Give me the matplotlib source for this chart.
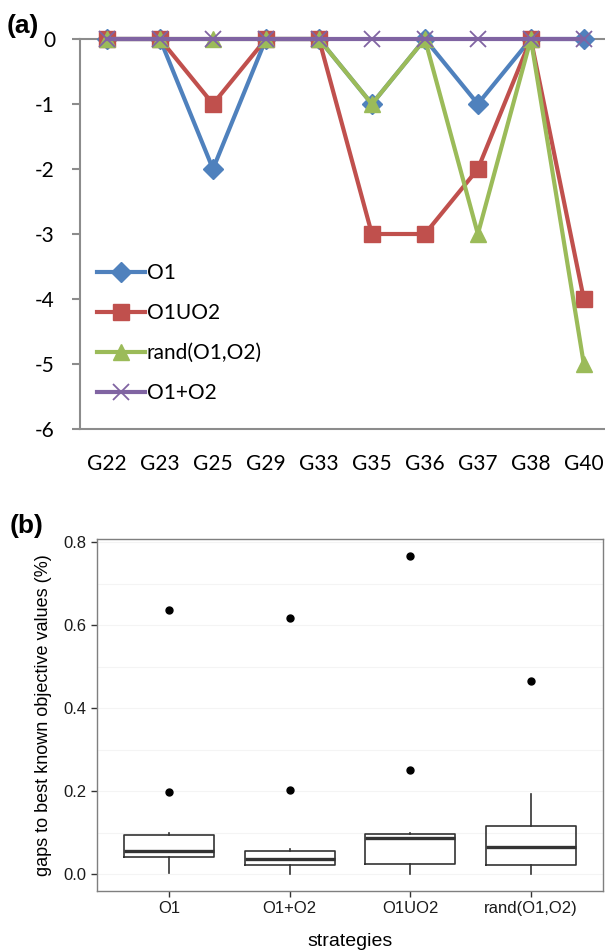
"""
Two-panel figure: (a) gap per instance for four strategies,
(b) boxplot of gaps to best known objective values.
"""
import numpy as np
import matplotlib
matplotlib.use('Agg')
import matplotlib.pyplot as plt
from matplotlib.ticker import MultipleLocator

# ---- panel (a) data ----
instances = ['G22', 'G23', 'G25', 'G29', 'G33', 'G35', 'G36', 'G37', 'G38', 'G40']
o1 = [0, 0, -2, 0, 0, -1, 0, -1, 0, 0]
o1uo2 = [0, 0, -1, 0, 0, -3, -3, -2, 0, -4]
rand_o1o2 = [0, 0, 0, 0, 0, -1, 0, -3, 0, -5]
o1plus = [0, 0, 0, 0, 0, 0, 0, 0, 0, 0]

# ---- panel (b) data (box statistics) ----
strategies = ['O1', 'O1+O2', 'O1UO2', 'rand(O1,O2)']
box_q1 = [0.041, 0.022, 0.024, 0.022]
box_med = [0.056, 0.036, 0.087, 0.065]
box_q3 = [0.094, 0.056, 0.097, 0.116]
whisk_lo = [0.004, 0.0, 0.0, 0.0]
whisk_hi = [0.100, 0.060, 0.100, 0.193]
outliers = [[0.198, 0.637], [0.203, 0.617], [0.251, 0.767], [0.467]]

W, H = 605, 952
fig = plt.figure(figsize=(W / 100, H / 100), dpi=100)

def fx(px):
    return px / W

def fy(py):
    return 1 - py / H

# ---------------- panel (a) ----------------
ax1 = fig.add_axes([fx(80), fy(429), fx(605 - 80), fy(39) - fy(429)])
x = np.arange(len(instances))
series = [
    ('O1', o1, '#4F81BD', 'D', 10),
    ('O1UO2', o1uo2, '#C0504D', 's', 11),
    ('rand(O1,O2)', rand_o1o2, '#9BBB59', '^', 12),
    ('O1+O2', o1plus, '#8064A2', 'x', 11),
]
for name, vals, col, mk, ms in series:
    if mk == 'x':
        ax1.plot(x, vals, color=col, lw=3, marker=mk, ms=ms, mew=1.3,
                 label=name, clip_on=False, zorder=5)
    else:
        ax1.plot(x, vals, color=col, lw=3, marker=mk, ms=ms,
                 label=name, clip_on=False, zorder=4)

ax1.set_xlim(-0.51, 9.4)
ax1.set_ylim(-6, 0)
ax1.set_yticks(range(-6, 1))
ax1.set_yticklabels([str(v) for v in range(-6, 1)])
ax1.set_xticks(x)
ax1.set_xticklabels(instances)
ax1.spines['right'].set_visible(False)
for s in ['left', 'top', 'bottom']:
    ax1.spines[s].set_color('#8c8c8c')
    ax1.spines[s].set_linewidth(1.5)
ax1.spines['top'].set_zorder(3)
ax1.tick_params(axis='y', direction='out', length=6, width=1.5, color='#8c8c8c',
                pad=12, labelsize=15)
ax1.tick_params(axis='x', length=0, pad=18, labelsize=15)
for lab in ax1.get_xticklabels() + ax1.get_yticklabels():
    lab.set_family('Lato')

leg = ax1.legend(loc='upper left', bbox_to_anchor=(0.032, 0.425), frameon=False,
                 handlelength=2.3, handletextpad=0.1, labelspacing=0.96,
                 borderpad=0, borderaxespad=0, prop={'family': 'Lato', 'size': 15})

fig.text(fx(7), fy(26), '(a)', fontsize=19, fontweight='bold',
         family='Liberation Sans', va='center', ha='left')

# ---------------- panel (b) ----------------
ax2 = fig.add_axes([fx(97), fy(891), fx(603 - 97), fy(539) - fy(891)])
stats = []
for i, name in enumerate(strategies):
    stats.append(dict(label=name, q1=box_q1[i], med=box_med[i], q3=box_q3[i],
                      whislo=whisk_lo[i], whishi=whisk_hi[i], fliers=outliers[i]))
pos = np.arange(1, len(strategies) + 1)
ax2.bxp(stats, positions=pos, widths=0.75, showfliers=True,
        boxprops=dict(color='#333333', linewidth=1.2),
        medianprops=dict(color='#333333', linewidth=2.4),
        whiskerprops=dict(color='#333333', linewidth=1.2),
        capprops=dict(linewidth=0),
        flierprops=dict(marker='o', markerfacecolor='black', markeredgecolor='black',
                        markersize=5))
ax2.set_xlim(0.4, 4.6)
ax2.set_ylim(-0.040, 0.808)
ax2.set_yticks([0.0, 0.2, 0.4, 0.6, 0.8])
ax2.set_yticklabels(['0.0', '0.2', '0.4', '0.6', '0.8'])
ax2.yaxis.set_minor_locator(MultipleLocator(0.1))
ax2.grid(which='both', axis='y', color='#f4f4f4', lw=0.8)
ax2.set_axisbelow(True)
ax2.tick_params(axis='y', which='minor', length=0)
for s in ax2.spines.values():
    s.set_color('#7f7f7f')
    s.set_linewidth(1.0)
ax2.tick_params(axis='both', which='major', direction='out', length=4, width=1,
                color='#333333', labelsize=12, labelcolor='#1a1a1a')
for lab in ax2.get_xticklabels() + ax2.get_yticklabels():
    lab.set_family('Liberation Sans')
ax2.set_xlabel('strategies', fontsize=14, family='Liberation Sans', labelpad=12)
ax2.set_ylabel('gaps to best known objective values (%)', fontsize=13,
               family='Liberation Sans', labelpad=8)

fig.text(fx(10), fy(526), '(b)', fontsize=19, fontweight='bold',
         family='Liberation Sans', va='center', ha='left')

fig.savefig('out.png', dpi=100)
plt.close(fig)
